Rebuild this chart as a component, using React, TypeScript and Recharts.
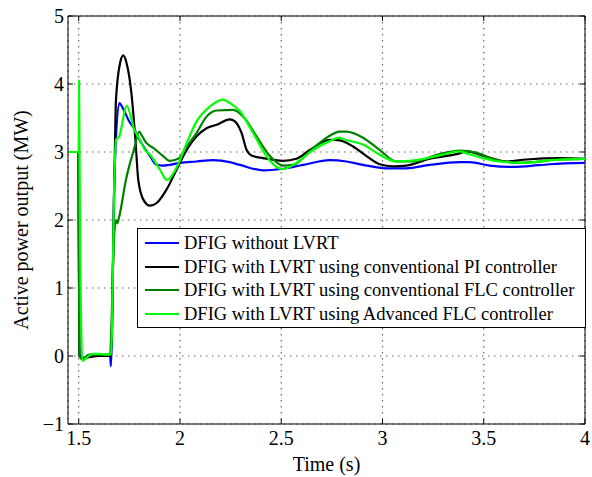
import { CartesianGrid, Line, LineChart, ReferenceLine, XAxis, YAxis } from "recharts";

type Pt = { t: number; p: number };

const toPts = (rows: number[][]): Pt[] => rows.map(([t, p]) => ({ t, p }));

// series values: [time (s), active power (MW)]
const withoutLvrt = [
  [1.447, 3.0], [1.499, 3.0], [1.503, 0.02], [1.52, -0.03], [1.55, 0.0],
  [1.6, 0.0], [1.655, 0.0], [1.659, -0.15], [1.676, 2.6], [1.7, 3.72],
  [1.725, 3.6], [1.753, 3.43], [1.766, 3.38], [1.8, 3.18], [1.852, 2.94],
  [1.885, 2.81], [1.917, 2.8], [2.0, 2.84], [2.082, 2.86], [2.163, 2.88],
  [2.246, 2.85], [2.296, 2.81], [2.411, 2.73], [2.501, 2.75], [2.608, 2.81],
  [2.74, 2.88], [2.822, 2.86], [2.904, 2.81], [3.019, 2.76], [3.118, 2.76],
  [3.233, 2.81], [3.381, 2.85], [3.43, 2.85], [3.529, 2.8], [3.628, 2.78],
  [3.71, 2.79], [3.825, 2.82], [4.0, 2.84],
];

const piController = [
  [1.447, 3.0], [1.499, 3.0], [1.503, 0.0], [1.52, -0.03], [1.6, 0.0],
  [1.659, 0.0], [1.676, 2.59], [1.684, 3.77], [1.705, 4.32], [1.72, 4.42],
  [1.735, 4.32], [1.758, 3.92], [1.78, 3.18], [1.794, 2.59], [1.819, 2.3],
  [1.852, 2.21], [1.885, 2.25], [1.934, 2.45], [1.983, 2.74], [2.033, 3.03],
  [2.082, 3.23], [2.131, 3.35], [2.181, 3.4], [2.246, 3.48], [2.271, 3.45],
  [2.304, 3.28], [2.329, 3.03], [2.353, 2.95], [2.411, 2.91], [2.509, 2.87],
  [2.575, 2.9], [2.641, 3.03], [2.74, 3.18], [2.789, 3.17], [2.855, 3.08],
  [2.921, 2.94], [2.986, 2.82], [3.052, 2.79], [3.118, 2.8], [3.233, 2.9],
  [3.381, 2.98], [3.414, 3.01], [3.513, 2.93], [3.611, 2.86], [3.71, 2.89],
  [3.875, 2.91], [4.0, 2.9],
];

const flcController = [
  [1.447, 3.0], [1.499, 3.0], [1.503, 0.0], [1.52, -0.05], [1.55, 0.02],
  [1.6, 0.02], [1.655, 0.02], [1.662, 0.5], [1.672, 1.6], [1.684, 2.0],
  [1.69, 1.95], [1.7, 2.05], [1.733, 2.59], [1.774, 3.05], [1.799, 3.3],
  [1.81, 3.25], [1.835, 3.13], [1.868, 3.06], [1.917, 2.94], [1.95, 2.87],
  [1.991, 2.9], [2.033, 3.08], [2.082, 3.28], [2.131, 3.52], [2.181, 3.61],
  [2.263, 3.62], [2.312, 3.52], [2.378, 3.23], [2.444, 2.94], [2.509, 2.8],
  [2.559, 2.81], [2.641, 3.01], [2.724, 3.21], [2.789, 3.3], [2.822, 3.3],
  [2.904, 3.21], [2.986, 3.03], [3.069, 2.86], [3.151, 2.86], [3.282, 2.97],
  [3.381, 3.02], [3.463, 2.99], [3.545, 2.9], [3.661, 2.84], [3.743, 2.85],
  [3.875, 2.89], [4.0, 2.9],
];

const advancedFlc = [
  [1.447, 3.0], [1.4995, 3.0], [1.5015, 4.05], [1.506, 2.0], [1.518, -0.07],
  [1.537, -0.03], [1.57, 0.03], [1.6, 0.03], [1.65, 0.02], [1.66, 0.02],
  [1.676, 2.6], [1.684, 3.18], [1.7, 3.23], [1.737, 3.68], [1.774, 3.33],
  [1.802, 3.18], [1.827, 3.03], [1.852, 2.96], [1.901, 2.74], [1.934, 2.59],
  [1.983, 2.77], [2.033, 3.13], [2.082, 3.45], [2.148, 3.67], [2.213, 3.77],
  [2.246, 3.72], [2.296, 3.6], [2.361, 3.28], [2.427, 2.94], [2.477, 2.78],
  [2.509, 2.75], [2.575, 2.84], [2.657, 3.03], [2.74, 3.16], [2.789, 3.21],
  [2.805, 3.19], [2.904, 3.11], [2.986, 2.96], [3.069, 2.86], [3.168, 2.88],
  [3.282, 2.95], [3.381, 3.01], [3.414, 2.98], [3.496, 2.91], [3.578, 2.86],
  [3.71, 2.84], [3.825, 2.88], [4.0, 2.9],
];

const xTicks = [1.5, 2, 2.5, 3, 3.5, 4];
const yTicks = [-1, 0, 1, 2, 3, 4, 5];
const xLabels = ["1.5", "2", "2.5", "3", "3.5", "4"];
const yLabels = ["\u22121", "0", "1", "2", "3", "4", "5"];

const series = [
  { name: "DFIG without LVRT", color: "#0000ff", data: toPts(withoutLvrt) },
  { name: "DFIG with LVRT using conventional PI controller", color: "#000000", data: toPts(piController) },
  { name: "DFIG with LVRT using conventional FLC controller", color: "#008000", data: toPts(flcController) },
  { name: "DFIG with LVRT using Advanced FLC controller", color: "#00ff00", data: toPts(advancedFlc) },
];

const FONT = "Liberation Serif, serif";
const X_DOMAIN: [number, number] = [1.447, 4];
const Y_DOMAIN: [number, number] = [-1, 5];
// inward tick length (5px) expressed in axis units
const TICK_X = ((X_DOMAIN[1] - X_DOMAIN[0]) * 5) / 517;
const TICK_Y = ((Y_DOMAIN[1] - Y_DOMAIN[0]) * 5) / 408;

const XTick = (props: any) => {
  const i = xTicks.indexOf(props.payload.value);
  return (
    <text x={props.x} y={445} textAnchor="middle" fontFamily={FONT} fontSize={20} fill="#000">
      {xLabels[i]}
    </text>
  );
};

const YTick = (props: any) => {
  const i = yTicks.indexOf(props.payload.value);
  return (
    <text x={64} y={props.y} dy={7} textAnchor="end" fontFamily={FONT} fontSize={20} fill="#000">
      {yLabels[i]}
    </text>
  );
};

// legend box laid over the plot, entries taken from the series list
const LegendBox = () => (
  <div
    style={{
      position: "absolute",
      left: 137,
      top: 228,
      width: 449,
      height: 100,
      border: "1px solid #000",
      background: "#fff",
      fontFamily: FONT,
      fontSize: 18.5,
      boxSizing: "border-box",
      paddingTop: 2,
    }}
  >
    {series.map((s) => (
      <div key={s.name} style={{ display: "flex", alignItems: "center", height: 23.8 }}>
        <svg width={46} height={10} style={{ flexShrink: 0 }}>
          <line x1={7} x2={41} y1={5} y2={5} stroke={s.color} strokeWidth={2.2} />
        </svg>
        <span style={{ whiteSpace: "nowrap", lineHeight: "20px" }}>{s.name}</span>
      </div>
    ))}
  </div>
);

export default function App() {
  return (
    <div style={{ position: "absolute", left: 0, top: 0, width: 592, height: 477, background: "#fff" }}>
      <LineChart width={592} height={477} margin={{ top: 16, right: 7, left: 0, bottom: 0 }}>
        <CartesianGrid xAxisId="x" yAxisId="y" stroke="#666" strokeWidth={1.2} strokeDasharray="1.5 4.5" />
        <XAxis
          xAxisId="x"
          type="number"
          dataKey="t"
          domain={X_DOMAIN}
          ticks={xTicks}
          height={53}
          axisLine={{ stroke: "#000", strokeWidth: 1 }}
          tickLine={false}
          tick={<XTick />}
          interval={0}
          label={{
            value: "Time (s)",
            position: "insideBottom",
            offset: 6,
            style: { fontFamily: FONT, fontSize: 20, fill: "#000" },
          }}
        />
        <YAxis
          yAxisId="y"
          type="number"
          domain={Y_DOMAIN}
          ticks={yTicks}
          width={68}
          axisLine={{ stroke: "#000" }}
          tickLine={false}
          tick={<YTick />}
          interval={0}
          label={{
            content: (p: any) => {
              const vb = p.viewBox || { y: 16, height: 408 };
              const cx = 21;
              const cy = vb.y + vb.height / 2;
              return (
                <text
                  x={cx}
                  y={cy}
                  transform={`rotate(-90 ${cx} ${cy})`}
                  textAnchor="middle"
                  dominantBaseline="central"
                  fontFamily={FONT}
                  fontSize={20}
                  fill="#000"
                >
                  Active power output (MW)
                </text>
              );
            },
          }}
        />
        {/* box: top and right edges */}
        <ReferenceLine xAxisId="x" yAxisId="y" y={Y_DOMAIN[1]} stroke="#000" />
        <ReferenceLine xAxisId="x" yAxisId="y" x={X_DOMAIN[1]} stroke="#000" />
        {/* inward tick marks on all four sides */}
        {xTicks.map((t) => (
          <ReferenceLine
            key={`tb${t}`}
            xAxisId="x"
            yAxisId="y"
            segment={[{ x: t, y: Y_DOMAIN[0] }, { x: t, y: Y_DOMAIN[0] + TICK_Y }]}
            stroke="#000"
          />
        ))}
        {xTicks.map((t) => (
          <ReferenceLine
            key={`tt${t}`}
            xAxisId="x"
            yAxisId="y"
            segment={[{ x: t, y: Y_DOMAIN[1] }, { x: t, y: Y_DOMAIN[1] - TICK_Y }]}
            stroke="#000"
          />
        ))}
        {yTicks.map((v) => (
          <ReferenceLine
            key={`tl${v}`}
            xAxisId="x"
            yAxisId="y"
            segment={[{ x: X_DOMAIN[0], y: v }, { x: X_DOMAIN[0] + TICK_X, y: v }]}
            stroke="#000"
          />
        ))}
        {yTicks.map((v) => (
          <ReferenceLine
            key={`tr${v}`}
            xAxisId="x"
            yAxisId="y"
            segment={[{ x: X_DOMAIN[1], y: v }, { x: X_DOMAIN[1] - TICK_X, y: v }]}
            stroke="#000"
          />
        ))}
        {series.map((s) => (
          <Line
            key={s.name}
            xAxisId="x"
            yAxisId="y"
            data={s.data}
            dataKey="p"
            name={s.name}
            type="monotone"
            stroke={s.color}
            strokeWidth={2.2}
            dot={false}
            activeDot={false}
            isAnimationActive={false}
          />
        ))}
      </LineChart>
      <LegendBox />
    </div>
  );
}
